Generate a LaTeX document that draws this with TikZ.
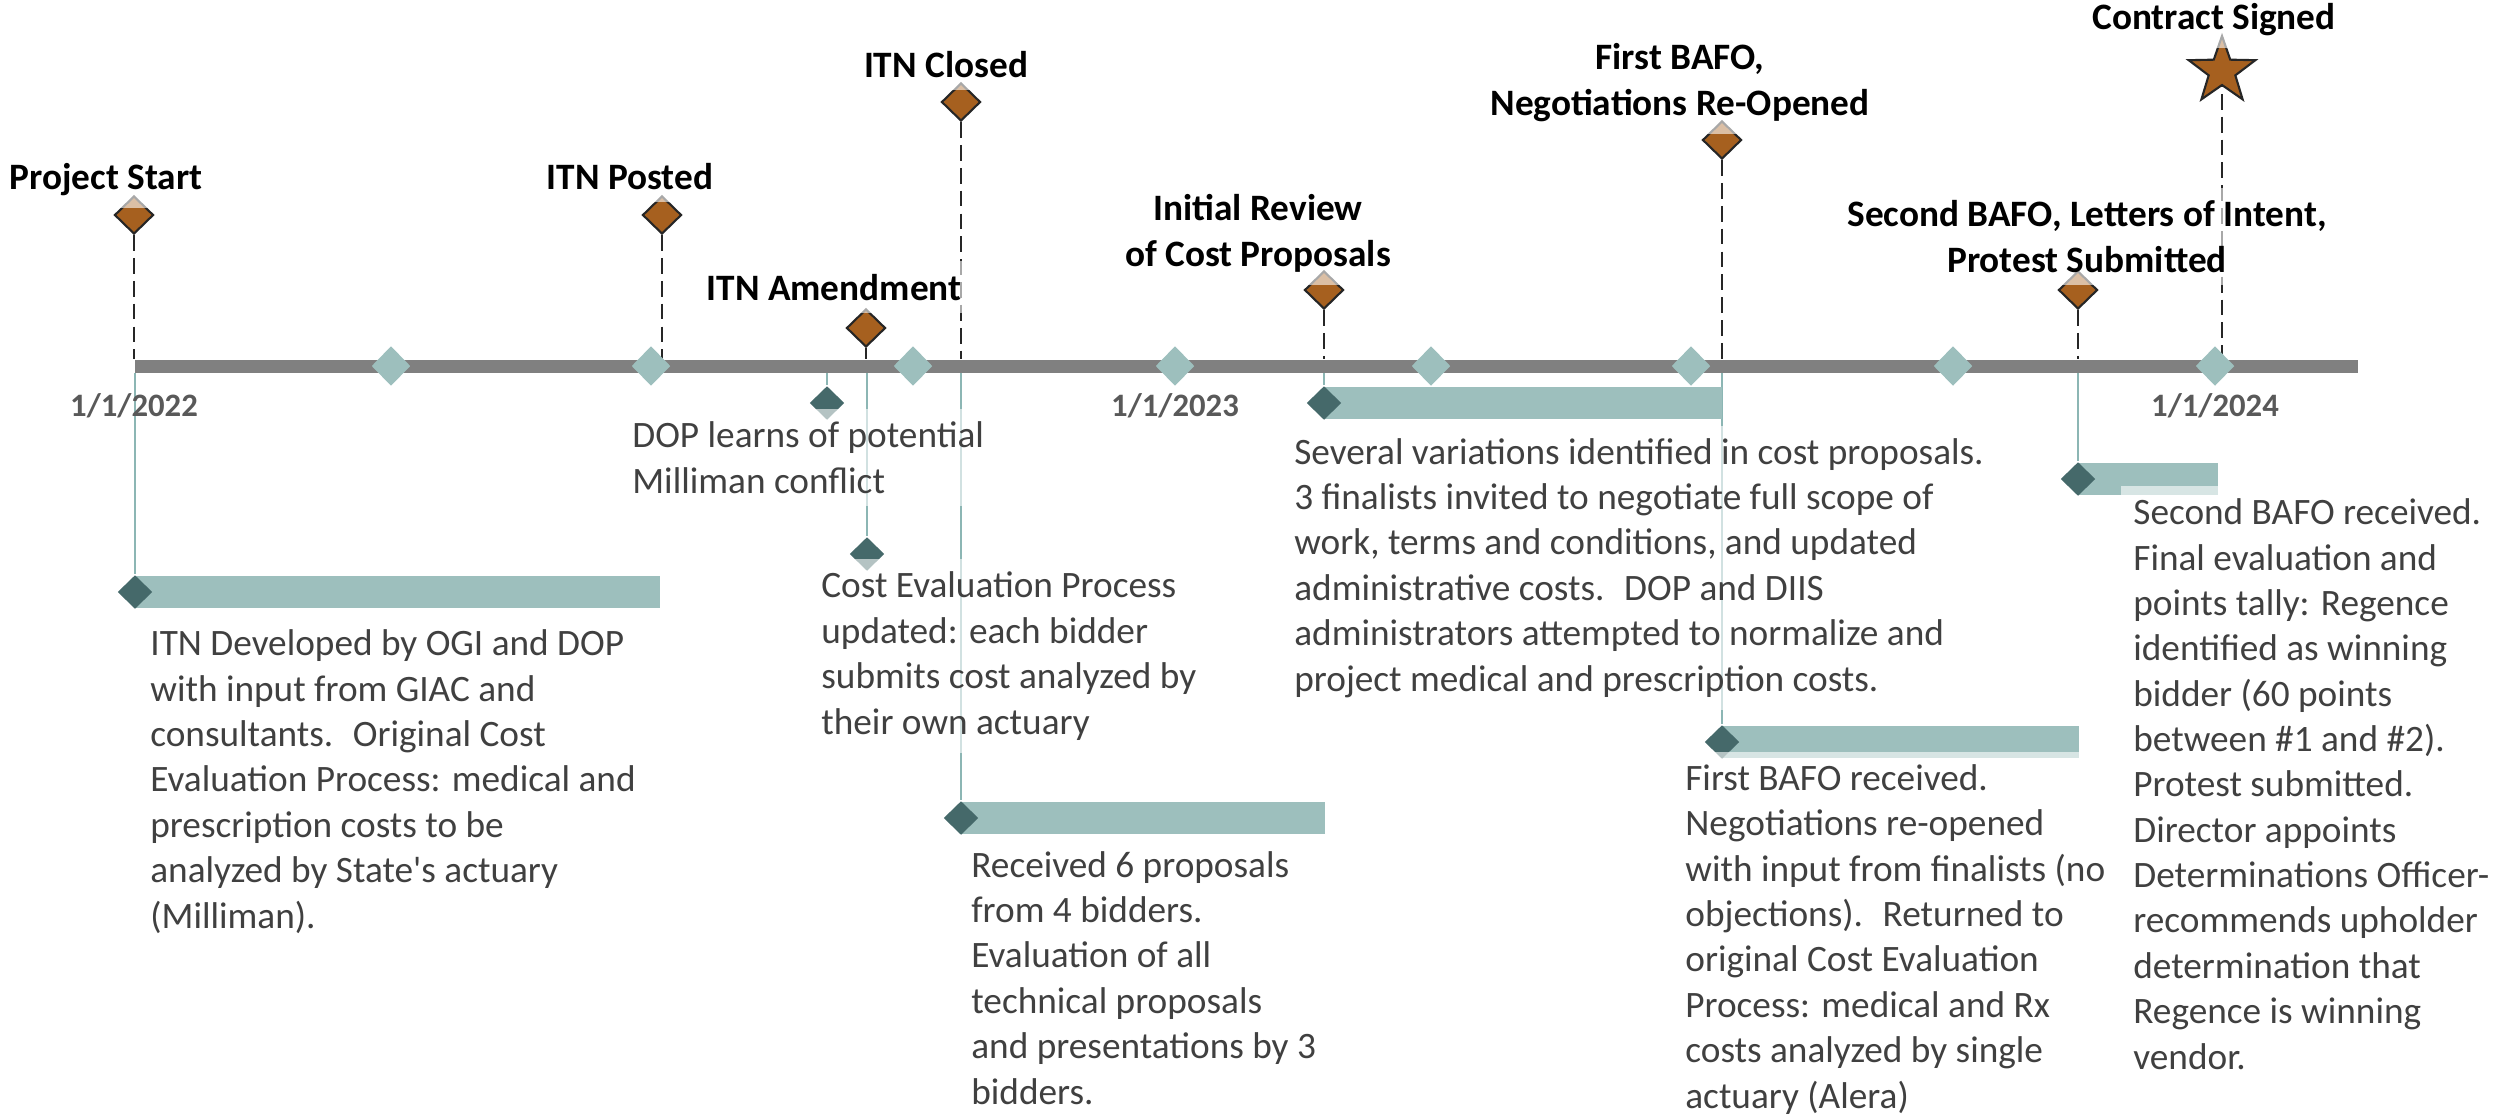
\documentclass[tikz,border=0pt]{standalone}
\usepackage{fontspec}
\setmainfont{Carlito}
\usetikzlibrary{shapes.geometric, backgrounds, calc}
\definecolor{msbrown}{RGB}{166,96,31}
\definecolor{msline}{RGB}{38,38,38}
\definecolor{tealbar}{RGB}{157,191,189}
\definecolor{teallink}{RGB}{140,182,180}
\definecolor{tealdark}{RGB}{69,105,106}
\definecolor{axisgray}{RGB}{128,128,128}
\definecolor{notegray}{RGB}{64,64,64}
\definecolor{dategray}{RGB}{89,89,89}

\begin{document}
\begin{tikzpicture}[
    x=0.01cm, y=-0.01cm,
    ms/.style={diamond, draw=msline, line width=0.6pt, fill=msbrown,
               minimum width=0.39cm, minimum height=0.38cm, inner sep=0pt},
    task/.style={diamond, fill=tealdark, minimum width=0.35cm, minimum height=0.34cm, inner sep=0pt},
    qtr/.style={diamond, fill=tealbar, minimum width=0.39cm, minimum height=0.40cm, inner sep=0pt},
    lbl/.style={anchor=base, align=center, font=\bfseries\fontsize{10.6}{12.9}\selectfont,
                inner sep=3.6pt, fill=white, fill opacity=0.6, text opacity=1},
    note/.style={anchor=base west, align=left, font=\fontsize{10.6}{12.9}\selectfont, text=notegray,
                 inner sep=3.6pt, fill=white, fill opacity=0.6, text opacity=1},
    datelbl/.style={anchor=base, font=\bfseries\fontsize{9.3}{11}\selectfont, text=dategray},
    stemline/.style={draw=msline, line width=0.5pt, dash pattern=on 4.5pt off 2pt},
    tealline/.style={draw=teallink, line width=0.55pt},
    taskbar/.style={fill=tealbar},
]
    \useasboundingbox (0,0) rectangle (2506,1114);

    \coordinate (ax0) at (135,366);
    \coordinate (ax1) at (2358,366);
    \coordinate (axtop) at (0,359);
    \coordinate (axbot) at (0,373);

    % Milestones
    \node[ms] (msStart)  at (134,215) {};
    \node[ms] (msPosted) at (662,215) {};
    \node[ms] (msAmend)  at (866,328) {};
    \node[ms] (msClosed) at (961,102) {};
    \node[ms] (msReview) at (1324,290) {};
    \node[ms] (msBafo1)  at (1722,140) {};
    \node[ms] (msBafo2)  at (2078,290) {};
    \node[star, star points=5, star point ratio=2.5, draw=msline, line width=0.6pt,
          fill=msbrown, minimum size=0.70cm, inner sep=0pt] (msSigned) at (2222,71) {};

    % Quarters on the axis
    \foreach \qx [count=\i] in {391,651,913,1175,1431,1691,1953,2215}
        \node[qtr] (q\i) at (\qx,366) {};

    % Tasks
    \node[task] (tA)    at (135,592) {};
    \node[task] (tDop)  at (827,403) {};
    \node[task] (tCost) at (867,554) {};
    \node[task] (tD)    at (961,818) {};
    \node[task] (tE)    at (1324,403) {};
    \node[task] (tF)    at (1722,742) {};
    \node[task] (tG)    at (2078,479) {};

    \begin{scope}[on background layer]
        \draw[axisgray, line width=3.7pt] (ax0) -- (ax1);
        \foreach \m in {msStart, msPosted, msAmend, msClosed, msReview, msBafo1, msBafo2}
            \draw[stemline] (\m.south) -- (\m.south |- axtop);
        \draw[stemline] (msSigned.center) -- (msSigned.center |- axtop);
        \foreach \t in {tA, tDop, tCost, tD, tE, tF, tG}
            \draw[tealline] (\t.north |- axbot) -- (\t.north);
        \fill[taskbar] ($(tA.center)+(0,-16)$) rectangle ($(msPosted.center |- tA.center)+(-2,16)$);
        \fill[taskbar] ($(tD.center)+(0,-16)$) rectangle ($(msReview.center |- tD.center)+(1,16)$);
        \fill[taskbar] ($(tE.center)+(0,-16)$) rectangle ($(msBafo1.center |- tE.center)+(0,16)$);
        \fill[taskbar] ($(tF.center)+(0,-16)$) rectangle ($(msBafo2.center |- tF.center)+(1,16)$);
        \fill[taskbar] ($(tG.center)+(0,-16)$) rectangle ($(msSigned.center |- tG.center)+(-4,16)$);
    \end{scope}

    % Dates
    \node[datelbl] (d22) at (134,416) {1/1/2022};
    \node[datelbl] (d23) at (1175,416) {1/1/2023};
    \node[datelbl] (d24) at (2215,416) {1/1/2024};

    % Labels (base = last line)
    \node[lbl] (lbStart)  at (106,189) {Project Start};
    \node[lbl] (lbPosted) at (630,189) {ITN Posted};
    \node[lbl] (lbAmend)  at (834,300) {ITN Amendment};
    \node[lbl] (lbClosed) at (946,77) {ITN Closed};
    \node[lbl] (lbReview) at (1258,266) {Initial Review\\of Cost Proposals};
    \node[lbl] (lbBafo1)  at (1680,115) {First BAFO,\\Negotiations Re-Opened};
    \node[lbl] (lbBafo2)  at (2087,272) {Second BAFO, Letters of Intent,\\Protest Submitted};
    \node[lbl] (lbSigned) at (2214,29) {Contract Signed};

    % Notes (base = last line)
    \node[note] (nA) at (137,928) {ITN Developed by OGI and DOP\\with input from GIAC and\\consultants.~ Original Cost\\Evaluation Process: medical and\\prescription costs to be\\analyzed by State\textquotesingle s actuary\\(Milliman).};
    \node[note] (nDop) at (619,493) {DOP learns of potential\\Milliman conflict};
    \node[note] (nCost) at (808,734) {Cost Evaluation Process\\updated: each bidder\\submits cost analyzed by\\their own actuary};
    \node[note] (nD) at (958,1104) {Received 6 proposals\\from 4 bidders.\\Evaluation of all\\technical proposals\\and presentations by 3\\bidders.};
    \node[note] (nE) at (1281,691) {Several variations identified in cost proposals.\\3 finalists invited to negotiate full scope of\\work, terms and conditions, and updated\\administrative costs.~ DOP and DIIS\\administrators attempted to normalize and\\project medical and prescription costs.};
    \node[note] (nF) at (1672,1108) {First BAFO received.\\Negotiations re-opened\\with input from finalists (no\\objections).~ Returned to\\original Cost Evaluation\\Process: medical and Rx\\costs analyzed by single\\actuary (Alera)};
    \node[note] (nG) at (2120,1069) {Second BAFO received.\\Final evaluation and\\points tally: Regence\\identified as winning\\bidder (60 points\\between \#1 and \#2).\\Protest submitted.\\Director appoints\\Determinations Officer-\\recommends upholder\\determination that\\Regence is winning\\vendor.};
\end{tikzpicture}
\end{document}
